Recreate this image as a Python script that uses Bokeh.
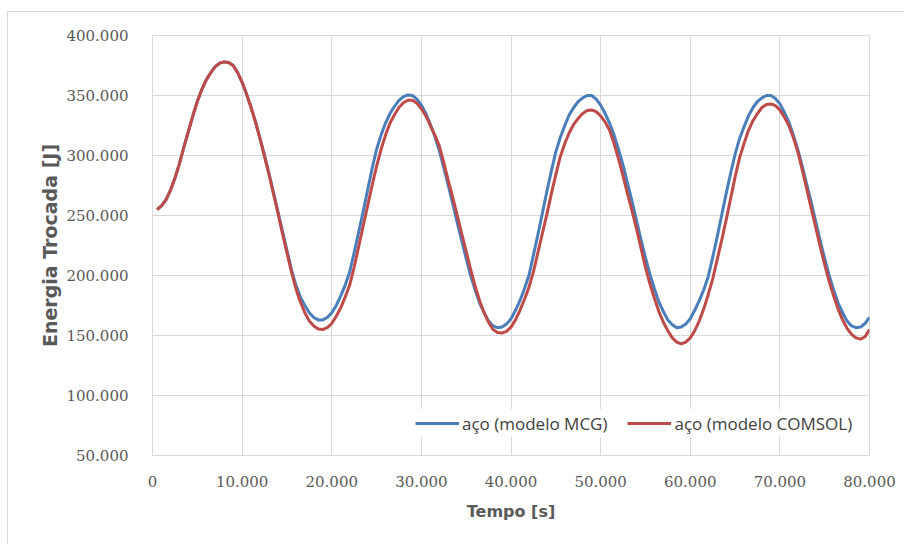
from bokeh.plotting import figure
from bokeh.models import (ColumnDataSource, Legend, LegendItem,
                          CustomJSTickFormatter, FixedTicker, Range1d)
from bokeh.embed import file_html
from bokeh.resources import INLINE

# ---- data (time in s, energy read in thousands of J) ----
tempo = [500 * k for k in range(1, 161)]

mcg_k = [255, 258, 263, 271, 281, 293, 307, 320, 333, 345,
         355, 363, 369, 374, 377, 378, 377.5, 375, 369, 361,
         351, 340, 328, 314, 300, 285, 269, 253, 237, 221,
         205, 192, 182, 175, 169, 165, 163, 163, 165, 169,
         175, 183, 192, 203, 219, 236, 253, 271, 289, 305,
         317, 327, 335, 341, 346, 349, 350.5, 350, 347, 342,
         335, 326, 316, 304, 290, 275, 260, 244, 229, 214,
         200, 188, 177, 169, 162, 158, 156.5, 157, 159.5, 164,
         171, 179, 189, 200, 217, 234, 252, 270, 287, 303,
         315, 325, 334, 340, 345, 348, 350, 350, 347, 342,
         335, 327, 317, 305, 292, 277, 262, 246, 230, 215,
         201, 189, 178, 170, 163, 159, 156.5, 157, 159.5, 164,
         171, 179, 188, 199, 215, 232, 250, 268, 285, 301,
         314, 324, 333, 340, 345, 348, 350, 350, 347.5, 343,
         336, 328, 317, 305, 291, 276, 261, 245, 229, 214,
         200, 188, 177, 169, 162, 158, 156.5, 157, 160, 165]

comsol_k = [255, 258, 263, 271, 281, 293, 307, 320, 333, 345,
            355, 363, 369, 374, 377, 378, 377.5, 375, 369, 361,
            351, 340, 327.5, 314, 299, 284, 268, 252, 235, 219,
            203, 189, 178, 169, 162, 158, 155.5, 155, 156.5, 160,
            166, 173, 182, 192, 207, 224, 241, 258, 275, 291,
            305, 317, 327, 334, 340, 344, 346, 346, 343.5, 339,
            333, 325, 317, 308, 294, 279, 265, 250, 235, 220,
            205, 191, 179, 169, 161, 155, 152.5, 152, 153.5, 157,
            163, 171, 180, 190, 203, 219, 235, 251, 268, 284,
            299, 310, 319, 326, 331, 335, 337.5, 338, 336.5, 333,
            328, 321, 310, 297, 283, 268, 254, 239, 223, 207,
            193, 181, 170, 161, 154, 148, 144.5, 143, 144.5, 148,
            154, 162, 172, 184, 197, 213, 229, 246, 264, 282,
            298, 310, 321, 329, 335, 340, 342.5, 343, 341.5, 338,
            332, 325, 315, 303, 288, 272, 256, 240, 224, 209,
            195, 183, 172, 163, 156, 151, 148, 147, 149, 155]

series_names = ["aço (modelo MCG)", "aço (modelo COMSOL)"]
x_ticks = [0, 10000, 20000, 30000, 40000, 50000, 60000, 70000, 80000]
y_ticks = [50000, 100000, 150000, 200000, 250000, 300000, 350000, 400000]
x_title = "Tempo [s]"
y_title = "Energia Trocada [J]"

mcg = [v * 1000 for v in mcg_k]
comsol = [v * 1000 for v in comsol_k]

src = ColumnDataSource(dict(x=tempo, mcg=mcg, comsol=comsol))

BLUE = "#4a7ebb"
RED = "#be4b48"
GRID = "#d9d9d9"
TXT = "#595959"

p = figure(width=897, height=533, output_backend="svg", toolbar_location=None,
           x_range=Range1d(0, 80000), y_range=Range1d(50000, 400000),
           min_border_left=144, min_border_right=36, min_border_top=23,
           min_border_bottom=90,
           styles={"margin-left": "7px", "margin-top": "11px",
                   "border-left": "1px solid #d9d9d9",
                   "border-top": "1px solid #d9d9d9"})

p.background_fill_color = "white"
p.border_fill_color = "white"
p.outline_line_color = GRID
p.outline_line_width = 1

r1 = p.line("x", "mcg", source=src, line_color=BLUE, line_width=3,
            line_join="round")
r2 = p.line("x", "comsol", source=src, line_color=RED, line_width=3,
            line_join="round")

fmt = CustomJSTickFormatter(code="""
    return Math.round(tick).toString().replace(/\\B(?=(\\d{3})+(?!\\d))/g, '.');
""")

for ax in (p.xaxis[0], p.yaxis[0]):
    ax.formatter = fmt
    ax.axis_line_color = GRID
    ax.major_tick_line_color = None
    ax.minor_tick_line_color = None
    ax.major_label_text_font = "DejaVu Serif"
    ax.major_label_text_font_size = "15px"
    ax.major_label_text_color = TXT
    ax.axis_label_text_font = "DejaVu Sans"
    ax.axis_label_text_font_style = "bold"
    ax.axis_label_text_color = TXT

p.xaxis[0].ticker = FixedTicker(ticks=x_ticks)
p.yaxis[0].ticker = FixedTicker(ticks=y_ticks)
p.xaxis[0].major_label_standoff = 14
p.yaxis[0].major_label_standoff = 18

p.xaxis[0].axis_label = x_title
p.xaxis[0].axis_label_text_font_size = "16px"
p.xaxis[0].axis_label_standoff = 12

p.yaxis[0].axis_label = y_title
p.yaxis[0].axis_label_text_font_size = "19px"
p.yaxis[0].axis_label_standoff = 2

p.xgrid.grid_line_color = GRID
p.ygrid.grid_line_color = GRID
p.xgrid.ticker = FixedTicker(ticks=x_ticks)
p.ygrid.ticker = FixedTicker(ticks=y_ticks)

legend = Legend(items=[LegendItem(label=series_names[0], renderers=[r1]),
                       LegendItem(label=series_names[1], renderers=[r2])],
                orientation="horizontal", location=(263, 18),
                glyph_width=44, glyph_height=28, label_height=28,
                label_standoff=3, spacing=20, padding=12, margin=0,
                label_text_font="Open Sans", label_text_font_size="17px",
                label_text_color="#404040",
                background_fill_color="white", background_fill_alpha=1.0,
                border_line_color=None)
p.add_layout(legend)

open("out.html", "w").write(file_html(p, INLINE))
